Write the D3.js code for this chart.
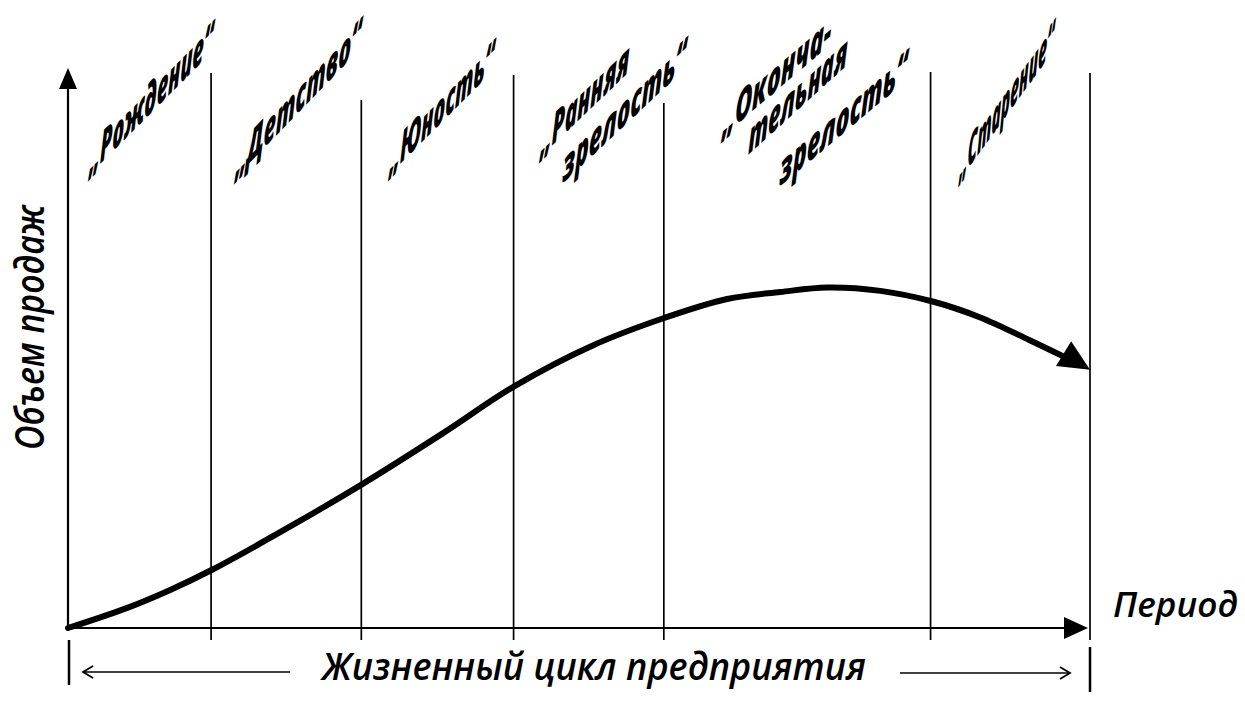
<!DOCTYPE html>
<html><head><meta charset="utf-8">
<script src="https://cdn.jsdelivr.net/npm/d3@7"></script>
<style>body{margin:0;background:#fff} svg{display:block}</style>
</head><body>
<svg id="c" width="1245" height="713"></svg>
<script>
// ---------- DATA ----------
const stageLines = [
  ["„Рождение“"],
  ["„Детство“"],
  ["„Юность“"],
  ["„Ранняя", "зрелость“"],
  ["„Оконча-", "тельная", "зрелость“"],
  ["„Старение“"]
];
const stageBoundaries = [14.0, 28.7, 43.6, 58.3, 84.4, 100];
const periodX = [0, 5.8, 10.0, 14.1, 22.0, 28.8, 36.7, 43.7, 51.4, 58.4, 64.5, 69.7, 74.3, 79.5, 84.6, 89.2, 94.1, 97.3, 100];
const salesY  = [0, 3.6, 6.8, 10.4, 18.4, 25.7, 34.8, 43.2, 50.5, 55.4, 58.75, 60.0, 60.8, 60.2, 58.3, 55.5, 51.4, 48.6, 46.1];
const yTitle = "Объем продаж";
const xTitle = "Период";
const spanTitle = "Жизненный цикл предприятия";

// ---------- LAYOUT ----------
const svg = d3.select("#c");
const x = d3.scaleLinear().domain([0, 100]).range([68, 1090]);
const y = d3.scaleLinear().domain([0, 100]).range([628, 68]);
const boundaryTopPx = [73, 100, 75, 103, 72, 73];
const FONT = "'Open Sans', 'Noto Sans', 'Liberation Sans', sans-serif";
// label line baseline start/end points (px)
const labelLayout = [
  [[[89,175],[213,51]]],
  [[[235,178],[361,48]]],
  [[[389,175],[494,70]]],
  [[[540,157],[629,72]], [[562,184],[686,68]]],
  [[[722,137],[831,44]], [[748,155],[847,65]], [[779,187],[907,80]]],
  [[[959,181],[1054,50]]]
];

// vertical stage lines (with small ticks below axis)
svg.append("g").selectAll("line").data(stageBoundaries).join("line")
  .attr("x1", d => x(d)).attr("x2", d => x(d))
  .attr("y1", (d, i) => boundaryTopPx[i]).attr("y2", y(0) + 12)
  .attr("stroke", "#000").attr("stroke-width", 1.7);

// y axis
svg.append("line").attr("x1", x(0)).attr("x2", x(0)).attr("y1", y(0)).attr("y2", y(100) + 18)
  .attr("stroke", "#000").attr("stroke-width", 2.2);
svg.append("path").attr("d", `M${x(0)},${y(100)} L${x(0)-9},${y(100)+21} L${x(0)+9},${y(100)+21} Z`).attr("fill", "#000");

// x axis
svg.append("line").attr("x1", x(0)).attr("x2", x(100) - 26).attr("y1", y(0)).attr("y2", y(0))
  .attr("stroke", "#000").attr("stroke-width", 2.2);
svg.append("path").attr("d", `M${x(100)-2},${y(0)} L${x(100)-26},${y(0)-11} L${x(100)-26},${y(0)+11} Z`).attr("fill", "#000");

// curve
const pts = periodX.map((v, i) => [x(v), y(salesY[i])]);
const line = d3.line().curve(d3.curveCatmullRom.alpha(0.5));
svg.append("path").attr("d", line(pts.slice(0, -1)))
  .attr("fill", "none").attr("stroke", "#000").attr("stroke-width", 6).attr("stroke-linecap", "round");
{
  const tip = pts[pts.length - 1], prev = pts[pts.length - 2];
  const ang = Math.atan2(tip[1] - prev[1], tip[0] - prev[0]) + 0.08;
  const len = 31, hw = 14.5;
  const bx = tip[0] - len * Math.cos(ang), by = tip[1] - len * Math.sin(ang);
  const nx = -Math.sin(ang), ny = Math.cos(ang);
  svg.append("path").attr("d", `M${tip[0]},${tip[1]} L${bx + nx*hw},${by + ny*hw} L${bx - nx*hw},${by - ny*hw} Z`).attr("fill", "#000");
}

// stage labels (sheared italic text, scaled to length via transform)
const tilt = 2 * Math.PI / 180;
stageLines.forEach((lines, i) => {
  lines.forEach((t, j) => {
    const [[x0, y0], [x1, y1]] = labelLayout[i][j];
    const a = Math.atan2(y1 - y0, x1 - x0);
    const L = Math.hypot(x1 - x0, y1 - y0);
    const el = svg.append("text")
      .attr("font-family", FONT).attr("font-style", "italic").attr("font-weight", 800).attr("font-size", 44)
      .text(t);
    const w = el.node().getComputedTextLength() || L;
    const s = L / w;
    el.attr("transform", `matrix(${Math.cos(a)*s},${Math.sin(a)*s},${-Math.sin(tilt)},${Math.cos(tilt)},${x0},${y0})`);
  });
});

// y title
svg.append("text").attr("transform", `translate(44,450) rotate(-90)`)
  .attr("font-family", FONT).attr("font-style", "italic").attr("font-weight", 600).attr("font-size", 40)
  .attr("textLength", 245).attr("lengthAdjust", "spacingAndGlyphs").text(yTitle);

// x title
svg.append("text").attr("x", 1113).attr("y", 617)
  .attr("font-family", FONT).attr("font-style", "italic").attr("font-weight", 600).attr("font-size", 34)
  .attr("textLength", 125).attr("lengthAdjust", "spacingAndGlyphs").text(xTitle);

// span (life cycle) annotation
svg.append("text").attr("x", 322).attr("y", 680)
  .attr("font-family", FONT).attr("font-style", "italic").attr("font-weight", 600).attr("font-size", 38)
  .attr("textLength", 544).attr("lengthAdjust", "spacingAndGlyphs").text(spanTitle);
svg.append("line").attr("x1", x(0) + 1).attr("x2", x(0) + 1).attr("y1", 640).attr("y2", 685).attr("stroke", "#000").attr("stroke-width", 2.5);
svg.append("line").attr("x1", x(100)).attr("x2", x(100)).attr("y1", 647).attr("y2", 692).attr("stroke", "#000").attr("stroke-width", 2.5);
svg.append("line").attr("x1", 83).attr("x2", 290).attr("y1", 672).attr("y2", 672).attr("stroke", "#000").attr("stroke-width", 1.6);
svg.append("path").attr("d", "M93,666 L83,672 L93,678").attr("fill", "none").attr("stroke", "#000").attr("stroke-width", 1.8);
svg.append("line").attr("x1", 900).attr("x2", 1070).attr("y1", 673).attr("y2", 673).attr("stroke", "#000").attr("stroke-width", 1.6);
svg.append("path").attr("d", "M1060,667 L1070,673 L1060,679").attr("fill", "none").attr("stroke", "#000").attr("stroke-width", 1.8);
</script>
</body></html>
